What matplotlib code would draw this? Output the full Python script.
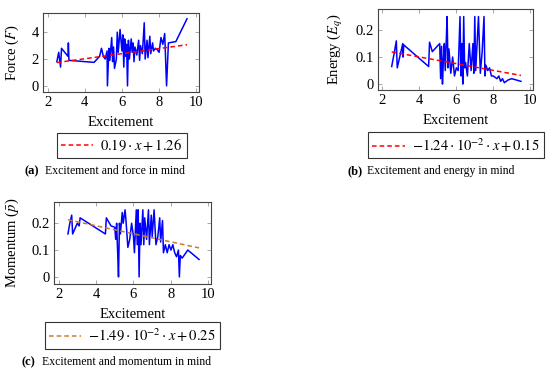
import matplotlib
matplotlib.use('Agg')
import matplotlib.pyplot as plt

plt.rcParams['font.family'] = ['Liberation Serif', 'DejaVu Serif']
plt.rcParams['mathtext.fontset'] = 'stix'

force_x = [2.5, 2.6, 2.7, 2.75, 3.1, 3.12, 3.15, 4.5, 4.8, 4.9, 5.0, 5.1, 5.2, 5.22, 5.3,
           5.35, 5.45, 5.5, 5.55, 5.6, 5.7, 5.75, 5.8, 5.9, 6.0, 6.05, 6.1, 6.15, 6.2, 6.25,
           6.3, 6.35, 6.4, 6.5, 6.55, 6.6, 6.65, 6.7, 6.8, 6.9, 6.95, 7.0, 7.1, 7.2, 7.25,
           7.35, 7.4, 7.5, 7.55, 7.65, 7.7, 7.8, 7.9, 8.0, 8.1, 8.2, 8.3, 8.4, 8.5, 8.9, 9.5]
force_y = [1.8, 2.5, 1.4, 2.8, 2.2, 3.2, 1.9, 1.75, 2.2, 2.8, 2.2, 2.0, 2.6, 0.0, 2.8,
           1.9, 3.6, 1.8, 2.9, 1.3, 2.0, 4.0, 2.5, 4.2, 2.6, 3.8, 1.4, 3.5, 2.2, 3.1,
           0.0, 3.4, 2.0, 3.5, 2.5, 3.2, 1.8, 2.9, 2.3, 3.4, 1.9, 3.0, 2.4, 4.7, 2.0,
           3.4, 2.1, 3.7, 2.4, 3.2, 2.6, 2.8, 2.7, 2.5, 3.6, 3.1, 3.9, 0.0, 3.2, 3.3, 5.0]

energy_x = [2.5, 2.65, 2.75, 2.8, 3.1, 3.12, 3.15, 4.5, 4.55, 4.7, 5.1, 5.15, 5.2, 5.25, 5.3,
            5.35, 5.4, 5.45, 5.5, 5.55, 5.6, 5.7, 5.8, 5.9, 6.0, 6.1, 6.2, 6.25, 6.3, 6.35,
            6.4, 6.45, 6.5, 6.6, 6.7, 6.8, 6.9, 6.95, 7.0, 7.05, 7.2, 7.3, 7.4, 7.5, 7.55,
            7.6, 7.7, 7.8, 7.9, 8.0, 8.2, 8.3, 8.4, 8.5, 8.6, 8.8, 9.0, 9.5]
energy_y = [0.065, 0.12, 0.16, 0.06, 0.15, 0.10, 0.145, 0.065, 0.155, 0.12, 0.15, 0.02, 0.14,
            0.0, 0.09, 0.15, 0.05, 0.15, 0.25, 0.06, 0.13, 0.04, 0.10, 0.03, 0.06, 0.05, 0.25,
            0.03, 0.15, 0.0, 0.25, 0.06, 0.08, 0.03, 0.15, 0.05, 0.15, 0.04, 0.25, 0.05, 0.25,
            0.04, 0.12, 0.25, 0.03, 0.07, 0.05, 0.06, 0.03, 0.03, 0.02, 0.03, 0.01, 0.02,
            0.005, 0.015, 0.02, 0.01]

momentum_x = [2.5, 2.6, 2.7, 2.75, 3.0, 3.1, 3.15, 4.5, 4.55, 4.8, 5.0, 5.05, 5.1, 5.15, 5.2,
              5.25, 5.3, 5.4, 5.45, 5.55, 5.6, 5.7, 5.8, 5.9, 6.0, 6.05, 6.15, 6.2, 6.25, 6.3,
              6.35, 6.4, 6.5, 6.55, 6.6, 6.7, 6.8, 6.85, 6.95, 7.0, 7.1, 7.2, 7.3, 7.4, 7.45,
              7.55, 7.6, 7.7, 7.8, 7.9, 8.0, 8.1, 8.2, 8.3, 8.4, 8.45, 8.5, 8.6, 8.9, 9.5]
momentum_y = [0.16, 0.2, 0.23, 0.16, 0.20, 0.19, 0.22, 0.16, 0.22, 0.19, 0.185, 0.14, 0.2, 0.1,
              0.0, 0.2, 0.16, 0.24, 0.2, 0.25, 0.21, 0.11, 0.14, 0.2, 0.15, 0.09, 0.25, 0.12,
              0.25, 0.0, 0.2, 0.12, 0.25, 0.12, 0.22, 0.14, 0.25, 0.12, 0.23, 0.15, 0.25, 0.12,
              0.15, 0.22, 0.13, 0.21, 0.09, 0.12, 0.09, 0.12, 0.10, 0.12, 0.09, 0.075, 0.10,
              0.0, 0.08, 0.07, 0.10, 0.065]

# fitted trend lines, end points
trend_x = [2.5, 9.5]
force_trend = [1.735, 3.065]
energy_trend = [0.119, 0.032]
momentum_trend = [0.213, 0.108]

xticks = [2, 4, 6, 8, 10]

fig = plt.figure(figsize=(5.5, 3.75), dpi=100)


def style_axes(ax, ylim, yticks, ylabels):
    ax.set_xlim(1.75, 10.15)
    ax.set_ylim(*ylim)
    ax.set_xticks(xticks)
    ax.set_yticks(yticks)
    ax.set_yticklabels(ylabels)
    ax.tick_params(direction='in', top=True, right=True, length=3, width=0.6,
                   color='#999999', labelsize=10.5, pad=3)
    for s in ax.spines.values():
        s.set_color('#444444')
        s.set_linewidth(0.8)


def panel(rect, x, y, ty, tcolor, ylim, yticks, ylabels, ylabel, ylab_x,
          legend_text, legend_xy, caption_tag, caption, caption_xy):
    ax = fig.add_axes(rect)
    ax.plot(x, y, color='blue', lw=1.1)
    ax.plot(trend_x, ty, color=tcolor, lw=1.1, ls=(0, (3, 2)), label=legend_text)
    style_axes(ax, ylim, yticks, ylabels)
    ax.set_xlabel('Excitement', fontsize=10.5, labelpad=5)
    ax.set_ylabel(ylabel, fontsize=10.5)
    ax.yaxis.set_label_coords(ylab_x, rect[1] + rect[3] / 2, transform=fig.transFigure)
    leg = ax.legend(loc='center', bbox_to_anchor=legend_xy, bbox_transform=fig.transFigure,
                    fancybox=False, edgecolor='#333333', framealpha=1, fontsize=10.5,
                    handlelength=2.2, handletextpad=0.5, borderpad=0.3)
    leg.get_frame().set_linewidth(0.8)
    fig.text(caption_xy[0], caption_xy[1], caption_tag, fontsize=9, fontweight='bold',
             va='center', ha='left')
    fig.text(caption_xy[0] + 0.037, caption_xy[1], caption, fontsize=8.5, va='center', ha='left')
    return ax


panel([0.078, 0.755, 0.284, 0.211], force_x, force_y, force_trend, 'red',
      (-0.45, 5.45), [0, 2, 4], ['0', '2', '4'], 'Force ($F$)', 0.038,
      r'$0.19\cdot x+1.26$', (0.221, 0.613),
      '(a)', 'Excitement and force in mind', (0.045, 0.544))

panel([0.687, 0.760, 0.282, 0.216], energy_x, energy_y, energy_trend, 'red',
      (-0.022, 0.278), [0, 0.1, 0.2], ['0', '0.1', '0.2'], 'Energy ($E_q$)', 0.627,
      r'$-1.24\cdot 10^{-2}\cdot x+0.15$', (0.829, 0.613),
      '(b)', 'Excitement and energy in mind', (0.631, 0.544))

panel([0.098, 0.243, 0.286, 0.219], momentum_x, momentum_y, momentum_trend, '#cc7a2e',
      (-0.026, 0.28), [0, 0.1, 0.2], ['0', '0.1', '0.2'], r'Momentum ($\bar{p}$)', 0.038,
      r'$-1.49\cdot 10^{-2}\cdot x+0.25$', (0.241, 0.105),
      '(c)', 'Excitement and momentum in mind', (0.040, 0.035))

fig.savefig('out.png', dpi=100)
